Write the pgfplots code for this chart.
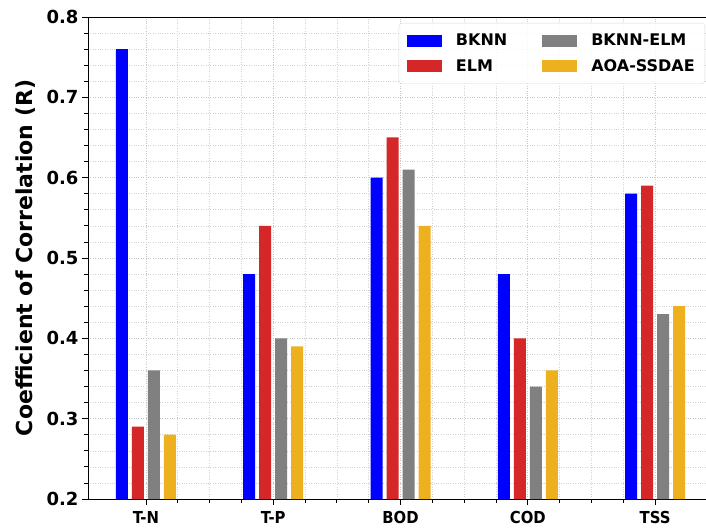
\documentclass[border=0pt]{standalone}
\usepackage{fontspec}
\setmainfont{DejaVu Sans}
\newfontfamily\condfont{DejaVu Sans Condensed}
\usepackage{pgfplots}
\pgfplotsset{compat=1.18}
\definecolor{cBlue}{RGB}{0,0,255}
\definecolor{cRed}{RGB}{214,39,40}
\definecolor{cGray}{RGB}{128,128,128}
\definecolor{cYel}{RGB}{237,177,32}
\begin{document}
\begin{tikzpicture}
\useasboundingbox (-88pt,-28pt) rectangle (618pt,499pt);
\begin{axis}[
  scale only axis, width=618pt, height=482pt,
  xmin=-0.455, xmax=4.4, ymin=0.2, ymax=0.8,
  ybar=4pt, bar width=12pt,
  axis x line*=box, axis y line*=left,
  xtick={0,1,2,3,4}, xticklabels={T-N,T-P,BOD,COD,TSS},
  minor x tick num=3,
  ytick={0.2,0.3,0.4,0.5,0.6,0.7,0.8}, minor y tick num=4,
  xtick pos=bottom, ytick pos=left,
  tick align=outside,
  major tick length=6pt, minor tick length=3.5pt,
  every tick/.style={black, line width=0.8pt},
  yticklabel style={font=\fontsize{18}{18}\selectfont\bfseries, /pgf/number format/.cd, fixed, precision=1, fixed zerofill, assume math mode=true},
  xticklabel style={font=\fontsize{16.5}{16.5}\selectfont\condfont\bfseries, yshift=-3pt},
  ylabel={Coefficient of Correlation (R)},
  ylabel style={font=\fontsize{22}{22}\selectfont\bfseries, yshift=4pt},
  grid=both,
  major grid style={gray!45, dotted, line width=0.6pt},
  minor grid style={gray!35, dotted, line width=0.6pt},
  axis line style={black, line width=0.8pt},
  legend columns=2, transpose legend, legend cell align=left,
  legend style={at={(1,1)}, anchor=north east, xshift=-1pt, yshift=-6pt,
    draw=gray!30, rounded corners=3pt, fill=white, fill opacity=0.85, text opacity=1,
    font=\fontsize{16}{16}\selectfont\bfseries,
    /tikz/every odd column/.append style={column sep=12pt},
    /tikz/every even column/.append style={column sep=33pt},
    inner xsep=8pt, inner ysep=9pt, row sep=8pt},
  legend image code/.code={\fill[#1, sharp corners, fill opacity=1] (0pt,-6pt) rectangle (35pt,6pt);},
]
\addplot[fill=cBlue, draw=none] coordinates {(0,0.76) (1,0.48) (2,0.60) (3,0.48) (4,0.58)};
\addplot[fill=cRed, draw=none] coordinates {(0,0.29) (1,0.54) (2,0.65) (3,0.40) (4,0.59)};
\addplot[fill=cGray, draw=none] coordinates {(0,0.36) (1,0.40) (2,0.61) (3,0.34) (4,0.43)};
\addplot[fill=cYel, draw=none] coordinates {(0,0.28) (1,0.39) (2,0.54) (3,0.36) (4,0.44)};
\legend{BKNN, ELM, BKNN-ELM, AOA-SSDAE}
\end{axis}
\end{tikzpicture}
\end{document}
